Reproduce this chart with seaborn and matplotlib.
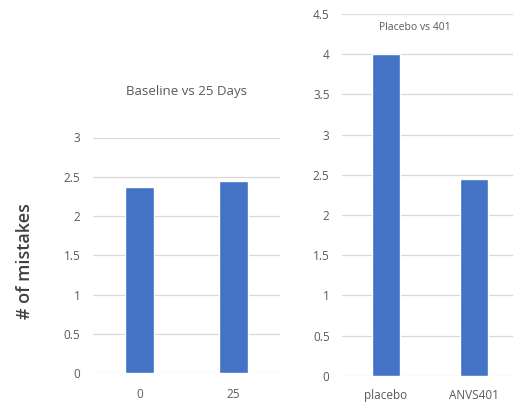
import numpy as np
import pandas as pd
import matplotlib
matplotlib.use("Agg")
import matplotlib.pyplot as plt
import seaborn as sns

# values
days = ["0", "25"]
day_mistakes = [2.37, 2.45]
groups = ["placebo", "ANVS401"]
group_mistakes = [4.0, 2.45]
left_ticks = [0, 0.5, 1, 1.5, 2, 2.5, 3]
right_ticks = [0, 0.5, 1, 1.5, 2, 2.5, 3, 3.5, 4, 4.5]

sns.set_style("white")
plt.rcParams['font.family'] = ['Open Sans', 'DejaVu Sans']

bar_color = "#4472C4"
grid_color = "#D9D9D9"
text_color = "#595959"

fig = plt.figure(figsize=(5.13, 4.04), dpi=100)
ax1 = fig.add_axes([93 / 513, 30.7 / 404, 187 / 513, 235.8 / 404])
ax2 = fig.add_axes([342 / 513, 28.3 / 404, 176 / 513, 361.7 / 404])

df1 = pd.DataFrame({"day": days, "mistakes": day_mistakes})
df2 = pd.DataFrame({"group": groups, "mistakes": group_mistakes})

sns.barplot(data=df1, x="day", y="mistakes", color=bar_color, width=0.31,
            saturation=1, ax=ax1)
sns.barplot(data=df2, x="group", y="mistakes", color=bar_color, width=0.32,
            saturation=1, ax=ax2)


def style_axis(ax, ticks, ypad, xpad):
    ax.set_ylim(0, ticks[-1])
    ax.set_xlim(-0.5, 1.5)
    ax.set_yticks(ticks)
    ax.set_yticklabels([f"{t:g}" for t in ticks])
    ax.set_xlabel("")
    ax.set_ylabel("")
    for s in ax.spines.values():
        s.set_visible(False)
    ax.yaxis.grid(True, color=grid_color, linewidth=0.9)
    ax.set_axisbelow(True)
    ax.tick_params(axis="y", length=0, pad=ypad, labelsize=8.5, labelcolor=text_color)
    ax.tick_params(axis="x", length=0, pad=xpad, labelsize=8.5, labelcolor=text_color)


style_axis(ax1, left_ticks, 9, 10.5)
style_axis(ax2, right_ticks, 9, 9.5)

ax1.text(0.5, (373.3 - 92) / 235.8, "Baseline vs 25 Days", transform=ax1.transAxes,
         ha="center", va="center", fontsize=9.5, color=text_color)
ax2.text((415 - 342) / 176, (375.7 - 27) / 361.7, "Placebo vs 401", transform=ax2.transAxes,
         ha="center", va="center", fontsize=7.5, color=text_color)

fig.text(25 / 513, 1 - 261 / 404, "# of mistakes", rotation=90, ha="center", va="center",
         fontsize=13, fontweight="semibold", color="#404040")

fig.savefig("out.png", dpi=100)
